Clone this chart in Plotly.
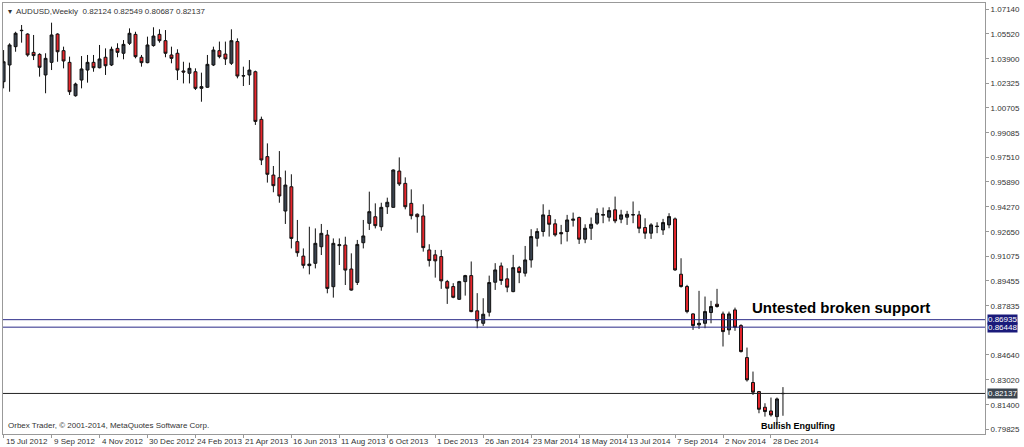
import plotly.graph_objects as go

opens = [1.0241,1.0350,1.0469,1.0573,1.0551,1.0432,1.0419,1.0285,1.0367,1.0551,1.0443,1.0367,1.0150,1.0252,1.0317,1.0367,1.0332,1.0400,1.0350,1.0458,
 1.0426,1.0491,1.0549,1.0400,1.0365,1.0476,1.0549,1.0508,1.0415,1.0426,1.0311,1.0296,1.0306,1.0198,1.0205,1.0350,1.0443,1.0421,1.0361,1.0502,
 1.0278,1.0285,1.0306,0.9996,0.9754,0.9634,0.9617,0.9400,0.9558,0.9201,0.9107,0.9045,0.9060,0.9168,0.9244,0.8908,0.9175,0.9179,0.9023,0.8936,
 0.9194,0.9320,0.9363,0.9298,0.9428,0.9424,0.9660,0.9580,0.9450,0.9379,0.9368,0.9147,0.9115,0.9104,0.8941,0.8909,0.8826,0.8941,0.8980,0.8751,
 0.8670,0.8742,0.8937,0.9043,0.8959,0.8876,0.9032,0.8996,0.9082,0.9223,0.9267,0.9371,0.9317,0.9260,0.9267,0.9340,0.9358,0.9217,0.9288,0.9321,
 0.9373,0.9360,0.9408,0.9347,0.9360,0.9377,0.9375,0.9293,0.9256,0.9299,0.9277,0.9310,0.9349,0.8989,0.8909,0.8731,0.8660,0.8670,0.8740,0.8794,
 0.8731,0.8627,0.8757,0.8655,0.8447,0.8285,0.8226,0.8124,0.8100,0.8063,0.82124]
highs = [1.0447,1.0491,1.0566,1.0610,1.0556,1.0545,1.0426,1.0426,1.0625,1.0556,1.0469,1.0404,1.0235,1.0408,1.0415,1.0415,1.0480,1.0458,1.0469,1.0491,
 1.0512,1.0588,1.0566,1.0415,1.0534,1.0595,1.0582,1.0577,1.0469,1.0452,1.0371,1.0365,1.0328,1.0300,1.0415,1.0469,1.0502,1.0502,1.0582,1.0523,
 1.0339,1.0382,1.0313,1.0014,0.9840,0.9693,0.9790,0.9663,0.9639,0.9342,0.9157,0.9298,0.9287,0.9316,0.9277,0.9222,0.9222,0.9233,0.9125,0.9212,
 0.9342,0.9526,0.9450,0.9454,0.9487,0.9671,0.9749,0.9619,0.9541,0.9385,0.9444,0.9184,0.9147,0.9147,0.8952,0.8931,0.8946,0.8985,0.9072,0.8866,
 0.8833,0.8980,0.9061,0.9065,0.9028,0.9115,0.9043,0.9173,0.9282,0.9288,0.9444,0.9408,0.9347,0.9310,0.9375,0.9390,0.9364,0.9314,0.9358,0.9418,
 0.9423,0.9425,0.9494,0.9408,0.9401,0.9462,0.9401,0.9353,0.9321,0.9327,0.9349,0.9386,0.9358,0.9093,0.8920,0.8735,0.8881,0.8844,0.8816,0.8894,
 0.8746,0.8746,0.8772,0.8664,0.8512,0.8356,0.8230,0.8150,0.8187,0.8187,0.82549]
lows = [1.0198,1.0176,1.0436,1.0495,1.0404,1.0382,1.0274,1.0166,1.0317,1.0371,1.0328,1.0155,1.0144,1.0198,1.0235,1.0306,1.0328,1.0285,1.0343,1.0400,
 1.0387,1.0480,1.0393,1.0339,1.0361,1.0469,1.0495,1.0400,1.0361,1.0252,1.0230,1.0230,1.0187,1.0111,1.0202,1.0343,1.0393,1.0350,1.0350,1.0263,
 1.0213,1.0220,0.9960,0.9699,0.9585,0.9522,0.9454,0.9316,0.9157,0.9103,0.9027,0.8988,0.9027,0.9114,0.8865,0.8837,0.9049,0.8919,0.8882,0.8919,
 0.9157,0.9277,0.9287,0.9272,0.9381,0.9422,0.9563,0.9411,0.9346,0.9259,0.9136,0.9039,0.8967,0.8894,0.8796,0.8833,0.8822,0.8850,0.8742,0.8638,
 0.8653,0.8714,0.8887,0.8920,0.8872,0.8872,0.8931,0.8974,0.9032,0.9169,0.9234,0.9234,0.9234,0.9184,0.9202,0.9299,0.9186,0.9191,0.9212,0.9310,
 0.9321,0.9332,0.9321,0.9321,0.9310,0.9321,0.9256,0.9219,0.9219,0.9256,0.9245,0.9288,0.9011,0.8902,0.8735,0.8627,0.8634,0.8638,0.8670,0.8772,
 0.8519,0.8595,0.8621,0.8480,0.8291,0.8204,0.8085,0.8063,0.8063,0.8009,0.80687]
closes = [1.0371,1.0480,1.0556,1.0575,1.0415,1.0411,1.0335,1.0393,1.0545,1.0436,1.0376,1.0176,1.0226,1.0324,1.0367,1.0332,1.0389,1.0345,1.0452,1.0432,
 1.0484,1.0556,1.0404,1.0365,1.0480,1.0538,1.0508,1.0426,1.0393,1.0317,1.0304,1.0328,1.0198,1.0209,1.0354,1.0447,1.0404,1.0389,1.0508,1.0278,
 1.0280,1.0317,0.9983,0.9732,0.9639,0.9565,0.9498,0.9569,0.9222,0.9129,0.9047,0.9055,0.9190,0.9255,0.8897,0.9190,0.9181,0.9016,0.8886,0.9183,
 0.9238,0.9396,0.9305,0.9424,0.9457,0.9667,0.9576,0.9428,0.9370,0.9363,0.9162,0.9078,0.9076,0.8946,0.8898,0.8839,0.8941,0.8980,0.8746,0.8686,
 0.8729,0.8935,0.9017,0.8948,0.8905,0.9032,0.9000,0.9082,0.9234,0.9267,0.9375,0.9314,0.9245,0.9252,0.9342,0.9347,0.9217,0.9288,0.9314,0.9386,
 0.9377,0.9403,0.9336,0.9375,0.9379,0.9375,0.9288,0.9256,0.9310,0.9301,0.9325,0.9364,0.9017,0.8909,0.8746,0.8655,0.8670,0.8746,0.8779,0.8779,
 0.8616,0.8731,0.8644,0.8486,0.8302,0.8222,0.8111,0.8096,0.8074,0.8178,0.82137]
idx = list(range(len(opens)))

date_ticks = ["15 Jul 2012","9 Sep 2012","4 Nov 2012","30 Dec 2012","24 Feb 2013","21 Apr 2013","16 Jun 2013",
 "11 Aug 2013","6 Oct 2013","1 Dec 2013","26 Jan 2014","23 Mar 2014","18 May 2014","13 Jul 2014",
 "7 Sep 2014","2 Nov 2014","28 Dec 2014"]
date_pos = [i*8 for i in range(len(date_ticks))]
price_ticks = [1.07140,1.05520,1.03900,1.02325,1.00705,0.99085,0.97510,0.95890,0.94270,0.92650,0.91075,0.89455,0.87835,0.84640,0.83020,0.81400,0.79825]
levels = [0.86935, 0.86448, 0.82137]
level_colors = ["#2a2a88", "#2a2a88", "#222222"]
label_colors = ["#1a1a7a", "#1a1a7a", "#3c4650"]

FONT = "Liberation Sans"

fig = go.Figure(go.Candlestick(
    x=idx, open=opens, high=highs, low=lows, close=closes,
    increasing=dict(fillcolor="#39424e", line=dict(color="#111111", width=1)),
    decreasing=dict(fillcolor="#e8262c", line=dict(color="#111111", width=1)),
    whiskerwidth=0, showlegend=False, hoverinfo="skip"))

for lv, c, lc in zip(levels, level_colors, label_colors):
    fig.add_shape(type="line", xref="paper", x0=0, x1=1, yref="y", y0=lv, y1=lv,
                  line=dict(color=c, width=1))
    fig.add_annotation(xref="paper", x=1.0, y=lv, yref="y", text=f"{lv:.5f}", showarrow=False,
                       xanchor="left", xshift=2, bgcolor=lc, font=dict(color="white", size=8, family=FONT),
                       borderpad=0)

for p, t in zip(date_pos, date_ticks):
    fig.add_annotation(x=p, xref="x", y=0, yref="paper", yshift=-1, yanchor="top", text=t, showarrow=False,
                       xanchor="left", font=dict(size=8, color="#333333", family=FONT))

fig.add_annotation(xref="paper", yref="paper", x=0.003, y=1, yshift=-2, xanchor="left", yanchor="top",
                   text="▾  AUDUSD,Weekly  0.82124 0.82549 0.80687 0.82137", showarrow=False,
                   font=dict(size=8, color="#333333", family=FONT))
fig.add_annotation(xref="paper", yref="paper", x=0.003, y=0, yshift=2, xanchor="left", yanchor="bottom",
                   text="Orbex Trader, © 2001-2014, MetaQuotes Software Corp.", showarrow=False,
                   font=dict(size=8, color="#333333", family=FONT))
fig.add_annotation(x=124.5, y=0.8775, xanchor="left", text="<b>Untested broken support</b>", showarrow=False,
                   font=dict(size=15, color="black", family=FONT))
fig.add_annotation(x=126, y=0.8000, xanchor="left", text="<b>Bullish Engulfing</b>", showarrow=False,
                   font=dict(size=9, color="black", family=FONT))

fig.update_layout(
    width=1024, height=447, margin=dict(l=3, r=39, t=3, b=13),
    paper_bgcolor="white", plot_bgcolor="white",
    xaxis=dict(range=[-0.1, 163.7], rangeslider=dict(visible=False), showgrid=False, showticklabels=False,
               showline=True, mirror=True, linecolor="#999999", zeroline=False,
               tickvals=date_pos, ticks="outside", ticklen=3, tickcolor="#999999"),
    yaxis=dict(range=[0.7950, 1.0753], side="right", showgrid=False, zeroline=False,
               tickvals=price_ticks, ticktext=[f"{v:.5f}" for v in price_ticks], ticks="outside", ticklen=3,
               tickcolor="#999999", showline=True, mirror=True, linecolor="#999999",
               tickfont=dict(size=8, color="#333333", family=FONT)),
)
fig.write_html("out.html", config={"displayModeBar": False},
               post_script="document.body.style.margin='0';document.body.style.overflow='hidden';")
